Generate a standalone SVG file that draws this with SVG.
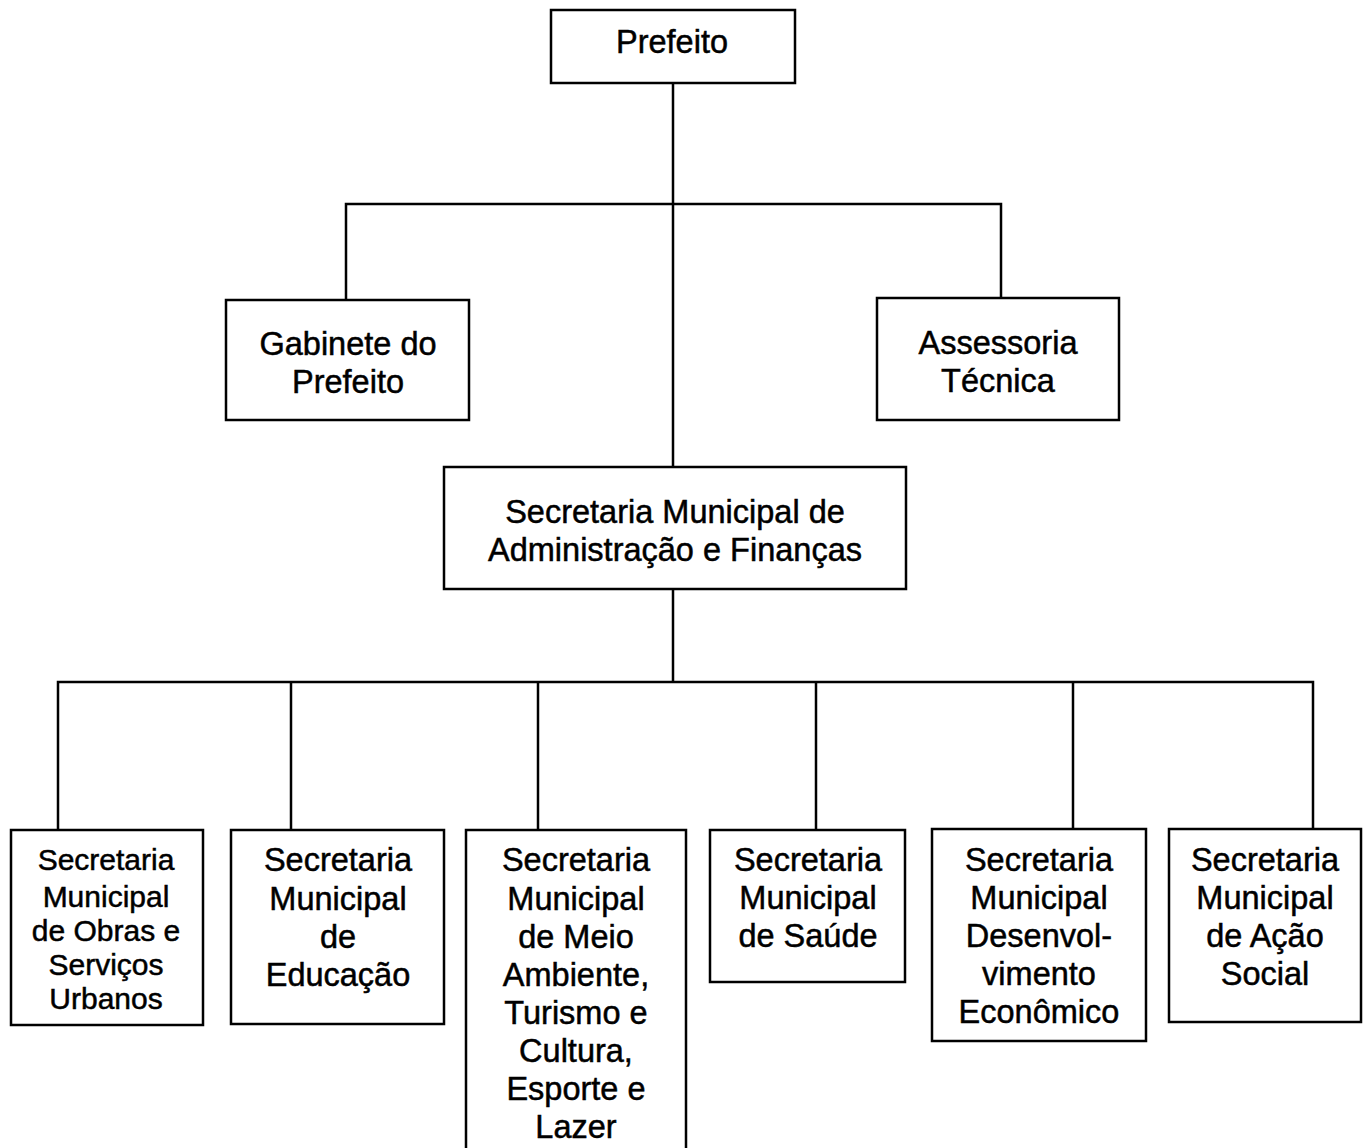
<svg xmlns="http://www.w3.org/2000/svg" width="1366" height="1148" viewBox="0 0 1366 1148">
<style>
rect{fill:#fff;stroke:#000;stroke-width:2.5}
.c line,.c path{stroke:#000;stroke-width:2.5;fill:none}
text{font-family:"Liberation Sans",Arial,sans-serif;font-size:32.5px;fill:#000;stroke:#000;stroke-width:0.5;text-anchor:middle}
.s{font-size:30px}
</style>
<rect width="1366" height="1148" style="fill:#fff;stroke:none"/>
<g class="c" id="connectors">
<line x1="673" y1="83" x2="673" y2="467"/>
<path d="M346 300V204H1001V298"/>
<line x1="673" y1="589" x2="673" y2="682"/>
<path d="M58 830V682H1313V829"/>
<line x1="291" y1="682" x2="291" y2="830"/>
<line x1="538" y1="682" x2="538" y2="830"/>
<line x1="816" y1="682" x2="816" y2="830"/>
<line x1="1073" y1="682" x2="1073" y2="829"/>
</g>
<g id="prefeito"><rect x="551" y="10" width="244" height="73"/><text x="672" y="53">Prefeito</text></g>
<g id="gabinete"><rect x="226" y="300" width="243" height="120"/><text x="348" y="355">Gabinete do</text><text x="348" y="393">Prefeito</text></g>
<g id="assessoria"><rect x="877" y="298" width="242" height="122"/><text x="998" y="354">Assessoria</text><text x="998" y="392">Técnica</text></g>
<g id="adm"><rect x="444" y="467" width="462" height="122"/><text x="675" y="523">Secretaria Municipal de</text><text x="675" y="561">Administração e Finanças</text></g>
<g id="obras"><rect x="11" y="830" width="192" height="195"/><text class="s" x="106" y="870">Secretaria</text><text class="s" x="106" y="907">Municipal</text><text class="s" x="106" y="941">de Obras e</text><text class="s" x="106" y="975">Serviços</text><text class="s" x="106" y="1009">Urbanos</text></g>
<g id="educacao"><rect x="231" y="830" width="213" height="194"/><text x="338" y="871">Secretaria</text><text x="338" y="910">Municipal</text><text x="338" y="948">de</text><text x="338" y="986">Educação</text></g>
<g id="meio"><rect x="466" y="830" width="220" height="330"/><text x="576" y="871">Secretaria</text><text x="576" y="910">Municipal</text><text x="576" y="948">de Meio</text><text x="576" y="986">Ambiente,</text><text x="576" y="1024">Turismo e</text><text x="576" y="1062">Cultura,</text><text x="576" y="1100">Esporte e</text><text x="576" y="1138">Lazer</text></g>
<g id="saude"><rect x="710" y="830" width="195" height="152"/><text x="808" y="871">Secretaria</text><text x="808" y="909">Municipal</text><text x="808" y="947">de Saúde</text></g>
<g id="desenv"><rect x="932" y="829" width="214" height="212"/><text x="1039" y="871">Secretaria</text><text x="1039" y="909">Municipal</text><text x="1039" y="947">Desenvol-</text><text x="1039" y="985">vimento</text><text x="1039" y="1023">Econômico</text></g>
<g id="acao"><rect x="1169" y="829" width="192" height="193"/><text x="1265" y="871">Secretaria</text><text x="1265" y="909">Municipal</text><text x="1265" y="947">de Ação</text><text x="1265" y="985">Social</text></g>
</svg>
